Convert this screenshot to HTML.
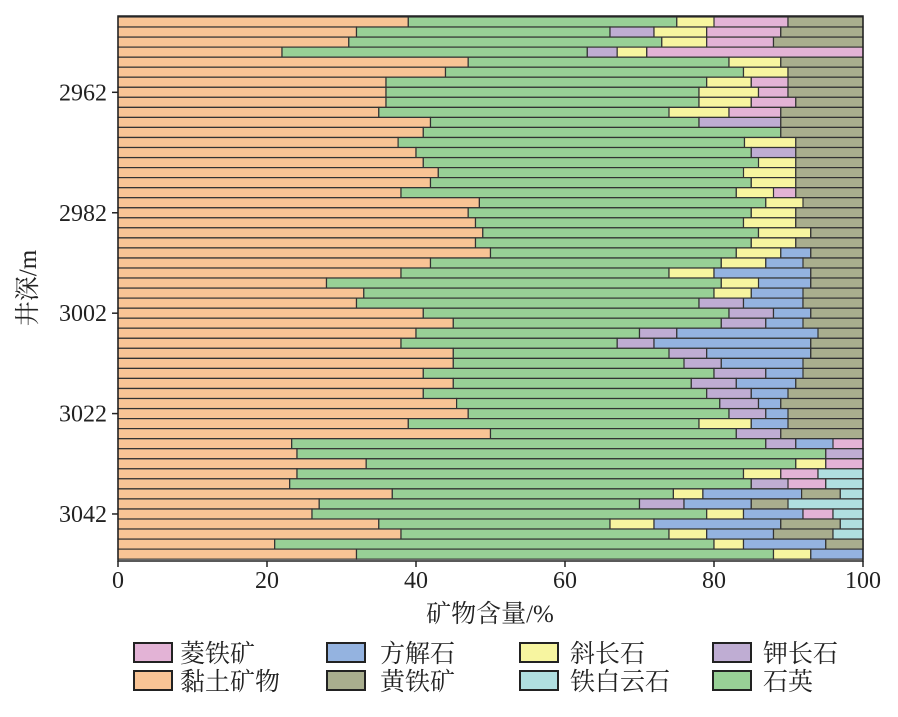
<!DOCTYPE html>
<html><head><meta charset="utf-8"><style>
html,body{margin:0;padding:0;background:#fff}
svg text{font-family:"Liberation Serif","Noto Serif CJK SC",serif;fill:#222}
</style></head><body>
<svg id="s" width="898" height="712" xmlns="http://www.w3.org/2000/svg"></svg>
<script>
const C={O:"#f8c495",G:"#98d096",K:"#bfadd3",Y:"#f7f5a0",B:"#94b3e0",P:"#e3b3d6",V:"#a9ae8e",C:"#b0dfe0"};
const rows=`O615 G1170 Y1247 P1400 V
O508 G1032 K1123 Y1232 P1385 V
O492 G1139 Y1232 P1370 V
O354 G985 K1047 Y1108 P
O739 G1278 Y1385 V
O692 G1308 Y1400 V
O569 G1232 Y1324 P1400 V
O569 G1216 Y1339 P1400 V
O569 G1216 Y1324 P1416 V
O554 G1154 Y1278 P1385 V
O661 G1216 K1385 V
O646 G1385 V
O594 G1310 Y1416 V
O631 G1324 K1416 V
O646 G1339 Y1416 V
O677 G1308 Y1416 V
O661 G1324 Y1416 V
O600 G1293 Y1370 P1416 V
O762 G1354 Y1431 V
O739 G1324 Y1416 V
O754 G1308 Y1416 V
O769 G1339 Y1447 V
O754 G1324 Y1416 V
O785 G1293 Y1385 B1447 V
O661 G1262 Y1354 B1431 V
O600 G1154 Y1247 B1447 V
O446 G1262 Y1339 B1447 V
O523 G1247 Y1324 B1431 V
O508 G1216 K1308 B1431 V
O646 G1278 K1370 B1447 V
O708 G1262 K1354 B1431 V
O631 G1093 K1170 B1462 V
O600 G1047 K1123 B1447 V
O708 G1154 K1232 B1447 V
O708 G1185 K1262 B1431 V
O646 G1247 K1354 B1431 V
O708 G1200 K1293 B1416 V
O646 G1232 K1324 B1400 V
O715 G1259 K1339 B1385 V
O739 G1278 K1354 B1400 V
O615 G1216 Y1324 B1400 V
O785 G1293 K1385 V
O374 G1354 K1416 B1493 P
O385 G1478 K
O528 G1416 Y1478 P
O385 G1308 Y1385 P1462 C
O370 G1324 K1400 P1478 C
O582 G1163 Y1224 B1428 V1508 C
O431 G1093 K1185 B1324 V1400 C
O416 G1232 Y1308 B1431 P1493 C
O554 G1032 Y1123 B1385 V1508 C
O600 G1154 Y1232 B1370 V1493 C
O339 G1247 Y1308 B1478 V
O508 G1370 Y1447 B`.split("\n");
const X0=118,W=745,Y0=17,RH=10.04;
const px=z=>X0+Math.min(100,(z-15)/15.4)*W/100;
let h="";
rows.forEach((r,i)=>{
  const y=Y0+i*RH;let x=X0;
  r.trim().split(/\s+/).forEach(t=>{
    const c=t[0];const e=t.length>1?px(+t.slice(1)):X0+W;
    h+=`<rect x="${x.toFixed(1)}" y="${y.toFixed(1)}" width="${(e-x).toFixed(1)}" height="${RH.toFixed(2)}" fill="${C[c]}" stroke="#333" stroke-width="1.2"/>`;
    x=e;
  });
});
h+=`<rect x="${X0}" y="16" width="${W}" height="545" fill="none" stroke="#222" stroke-width="1.5"/>`;
[0,20,40,60,80,100].forEach(v=>{const x=X0+v*W/100;
  h+=`<line x1="${x}" y1="561" x2="${x}" y2="567" stroke="#222" stroke-width="1.5"/><text x="${x}" y="588" font-size="24" text-anchor="middle">${v}</text>`;});
[[2962,8],[2982,20],[3002,30],[3022,40],[3042,50]].forEach(([l,k])=>{const y=Y0+RH*(k-0.5);
  h+=`<line x1="112" y1="${y}" x2="${X0}" y2="${y}" stroke="#222" stroke-width="1.5"/><text x="107" y="${y+8}" font-size="24" text-anchor="end">${l}</text>`;});
h+=`<text x="490" y="622" font-size="25" text-anchor="middle">矿物含量/%</text>`;
h+=`<text transform="translate(36,288) rotate(-90)" font-size="25" text-anchor="middle">井深/m</text>`;
const L=[["菱铁矿","P",134,180,643],["方解石","B",327,380,643],["斜长石","Y",520,570,643],["钾长石","K",713,763,643],
["黏土矿物","O",134,180,671],["黄铁矿","V",327,380,671],["铁白云石","C",520,570,671],["石英","G",713,763,671]];
L.forEach(([t,c,bx,tx,y])=>{h+=`<rect x="${bx}" y="${y}" width="38" height="19" fill="${C[c]}" stroke="#222" stroke-width="2"/><text x="${tx}" y="${y+19}" font-size="25">${t}</text>`;});
document.getElementById("s").innerHTML=h;
</script>
</body></html>
